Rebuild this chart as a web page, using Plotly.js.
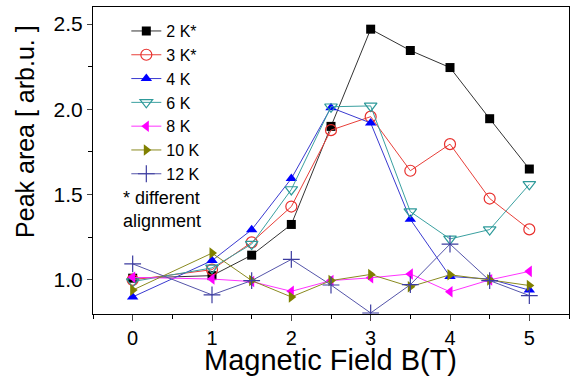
<!DOCTYPE html>
<html><head><meta charset="utf-8">
<script src="https://cdn.plot.ly/plotly-3.0.1.min.js"></script>
<style>html,body{margin:0;padding:0;background:#fff}#chart{width:577px;height:380px}</style>
</head><body><div id="chart"></div>
<script>
const fieldB = [0, 1, 1.5, 2, 2.5, 3, 3.5, 4, 4.5, 5];
const names = ["2 K*", "3 K*", "4 K", "6 K", "8 K", "10 K", "12 K"];
const k2  = [1.01, 1.025, 1.145, 1.325, 1.90, 2.47, 2.345, 2.245, 1.945, 1.65];
const k3  = [1.00, 1.06, 1.22, 1.43, 1.878, 1.957, 1.64, 1.796, 1.477, 1.296];
const k4  = [0.90, 1.113, 1.294, 1.594, 2.01, 1.92, 1.355, 1.02, 1.005, 0.94];
const k6  = [0.99, 1.07, 1.21, 1.53, 2.015, 2.02, 1.40, 1.24, 1.295, 1.56];
const k8  = [1.015, 1.005, 0.99, 0.933, 0.996, 1.012, 1.035, 0.93, 1.00, 1.05];
const k10 = [0.94, 1.157, 0.996, 0.90, 0.996, 1.032, 0.96, 1.03, 1.00, 0.967];
const k12 = [1.094, 0.912, 0.996, 1.12, 0.97, 0.806, 0.972, 1.21, 0.996, 0.908];
const xTicks = [0, 1, 2, 3, 4, 5];
const yTicks = [1.0, 1.5, 2.0, 2.5];
const yTickText = ["1.0", "1.5", "2.0", "2.5"];
const xTitle = "Magnetic Field B(T)";
const yTitle = "Peak area [ arb.u. ]";
const note = "* different<br>alignment";

const series = [k2, k3, k4, k6, k8, k10, k12];
const lineColors = ["#333333", "#e8403a", "#3a3ad0", "#3aa0a0", "#ff33ff", "#8a8a20", "#5555aa"];
const markerColors = ["#000000", "#e8302d", "#0000ff", "#2e9a9a", "#ff00ff", "#808000", "#3c3ca0"];
const symbols = ["square", "circle-open", "triangle-up", "triangle-down-open", "triangle-left", "triangle-right", "cross-thin-open"];
const sizes = [9, 11, 10, 11, 10, 10, 12];

const traces = series.map((ys, i) => ({
  x: fieldB, y: ys, name: names[i], type: "scatter", mode: "lines+markers",
  line: {color: lineColors[i], width: 1},
  marker: {symbol: symbols[i], size: sizes[i], color: markerColors[i],
           line: {color: markerColors[i], width: (i===1||i===3||i===6) ? 1.2 : 0}}
}));

const layout = {
  width: 577, height: 380,
  margin: {l: 93, r: 8, t: 7, b: 66},
  paper_bgcolor: "#fff", plot_bgcolor: "#fff",
  font: {family: "Liberation Sans, Arial, sans-serif", color: "#000"},
  showlegend: true,
  legend: {x: 0.07, y: 0.977, xanchor: "left", yanchor: "top", bgcolor: "rgba(0,0,0,0)",
           font: {size: 16}, tracegroupgap: 0, itemsizing: "trace"},
  xaxis: {range: [-0.5, 5.5], tickvals: xTicks, ticks: "outside", ticklen: 6, tickwidth: 1,
          minor: {dtick: 0.5, ticks: "outside", ticklen: 4, tickcolor: "#000"},
          showline: true, linecolor: "#000", linewidth: 1, mirror: true, showgrid: false, zeroline: false,
          tickfont: {size: 20}},
  yaxis: {range: [0.8, 2.6], tickvals: yTicks, ticktext: yTickText, ticks: "outside", ticklen: 5, tickwidth: 1,
          minor: {tickvals: [0.75, 1.25, 1.75, 2.25], ticks: "outside", ticklen: 4, tickcolor: "#000"},
          showline: true, linecolor: "#000", linewidth: 1, mirror: true, showgrid: false, zeroline: false,
          tickfont: {size: 21}},
  annotations: [
    {xref: "paper", yref: "paper", x: 0.059, y: 0.34, xanchor: "left", yanchor: "middle",
     align: "left", showarrow: false, text: note, font: {size: 18}},
    {xref: "paper", yref: "paper", x: 0.498, y: -0.15, xanchor: "center", yanchor: "middle",
     showarrow: false, text: xTitle, font: {size: 29}},
    {xref: "paper", yref: "paper", x: (25 - 93) / 476, y: 0.593, xanchor: "center", yanchor: "middle",
     showarrow: false, textangle: -90, text: yTitle, font: {size: 25}}
  ]
};
Plotly.newPlot("chart", traces, layout, {displayModeBar: false, staticPlot: true});
</script></body></html>
